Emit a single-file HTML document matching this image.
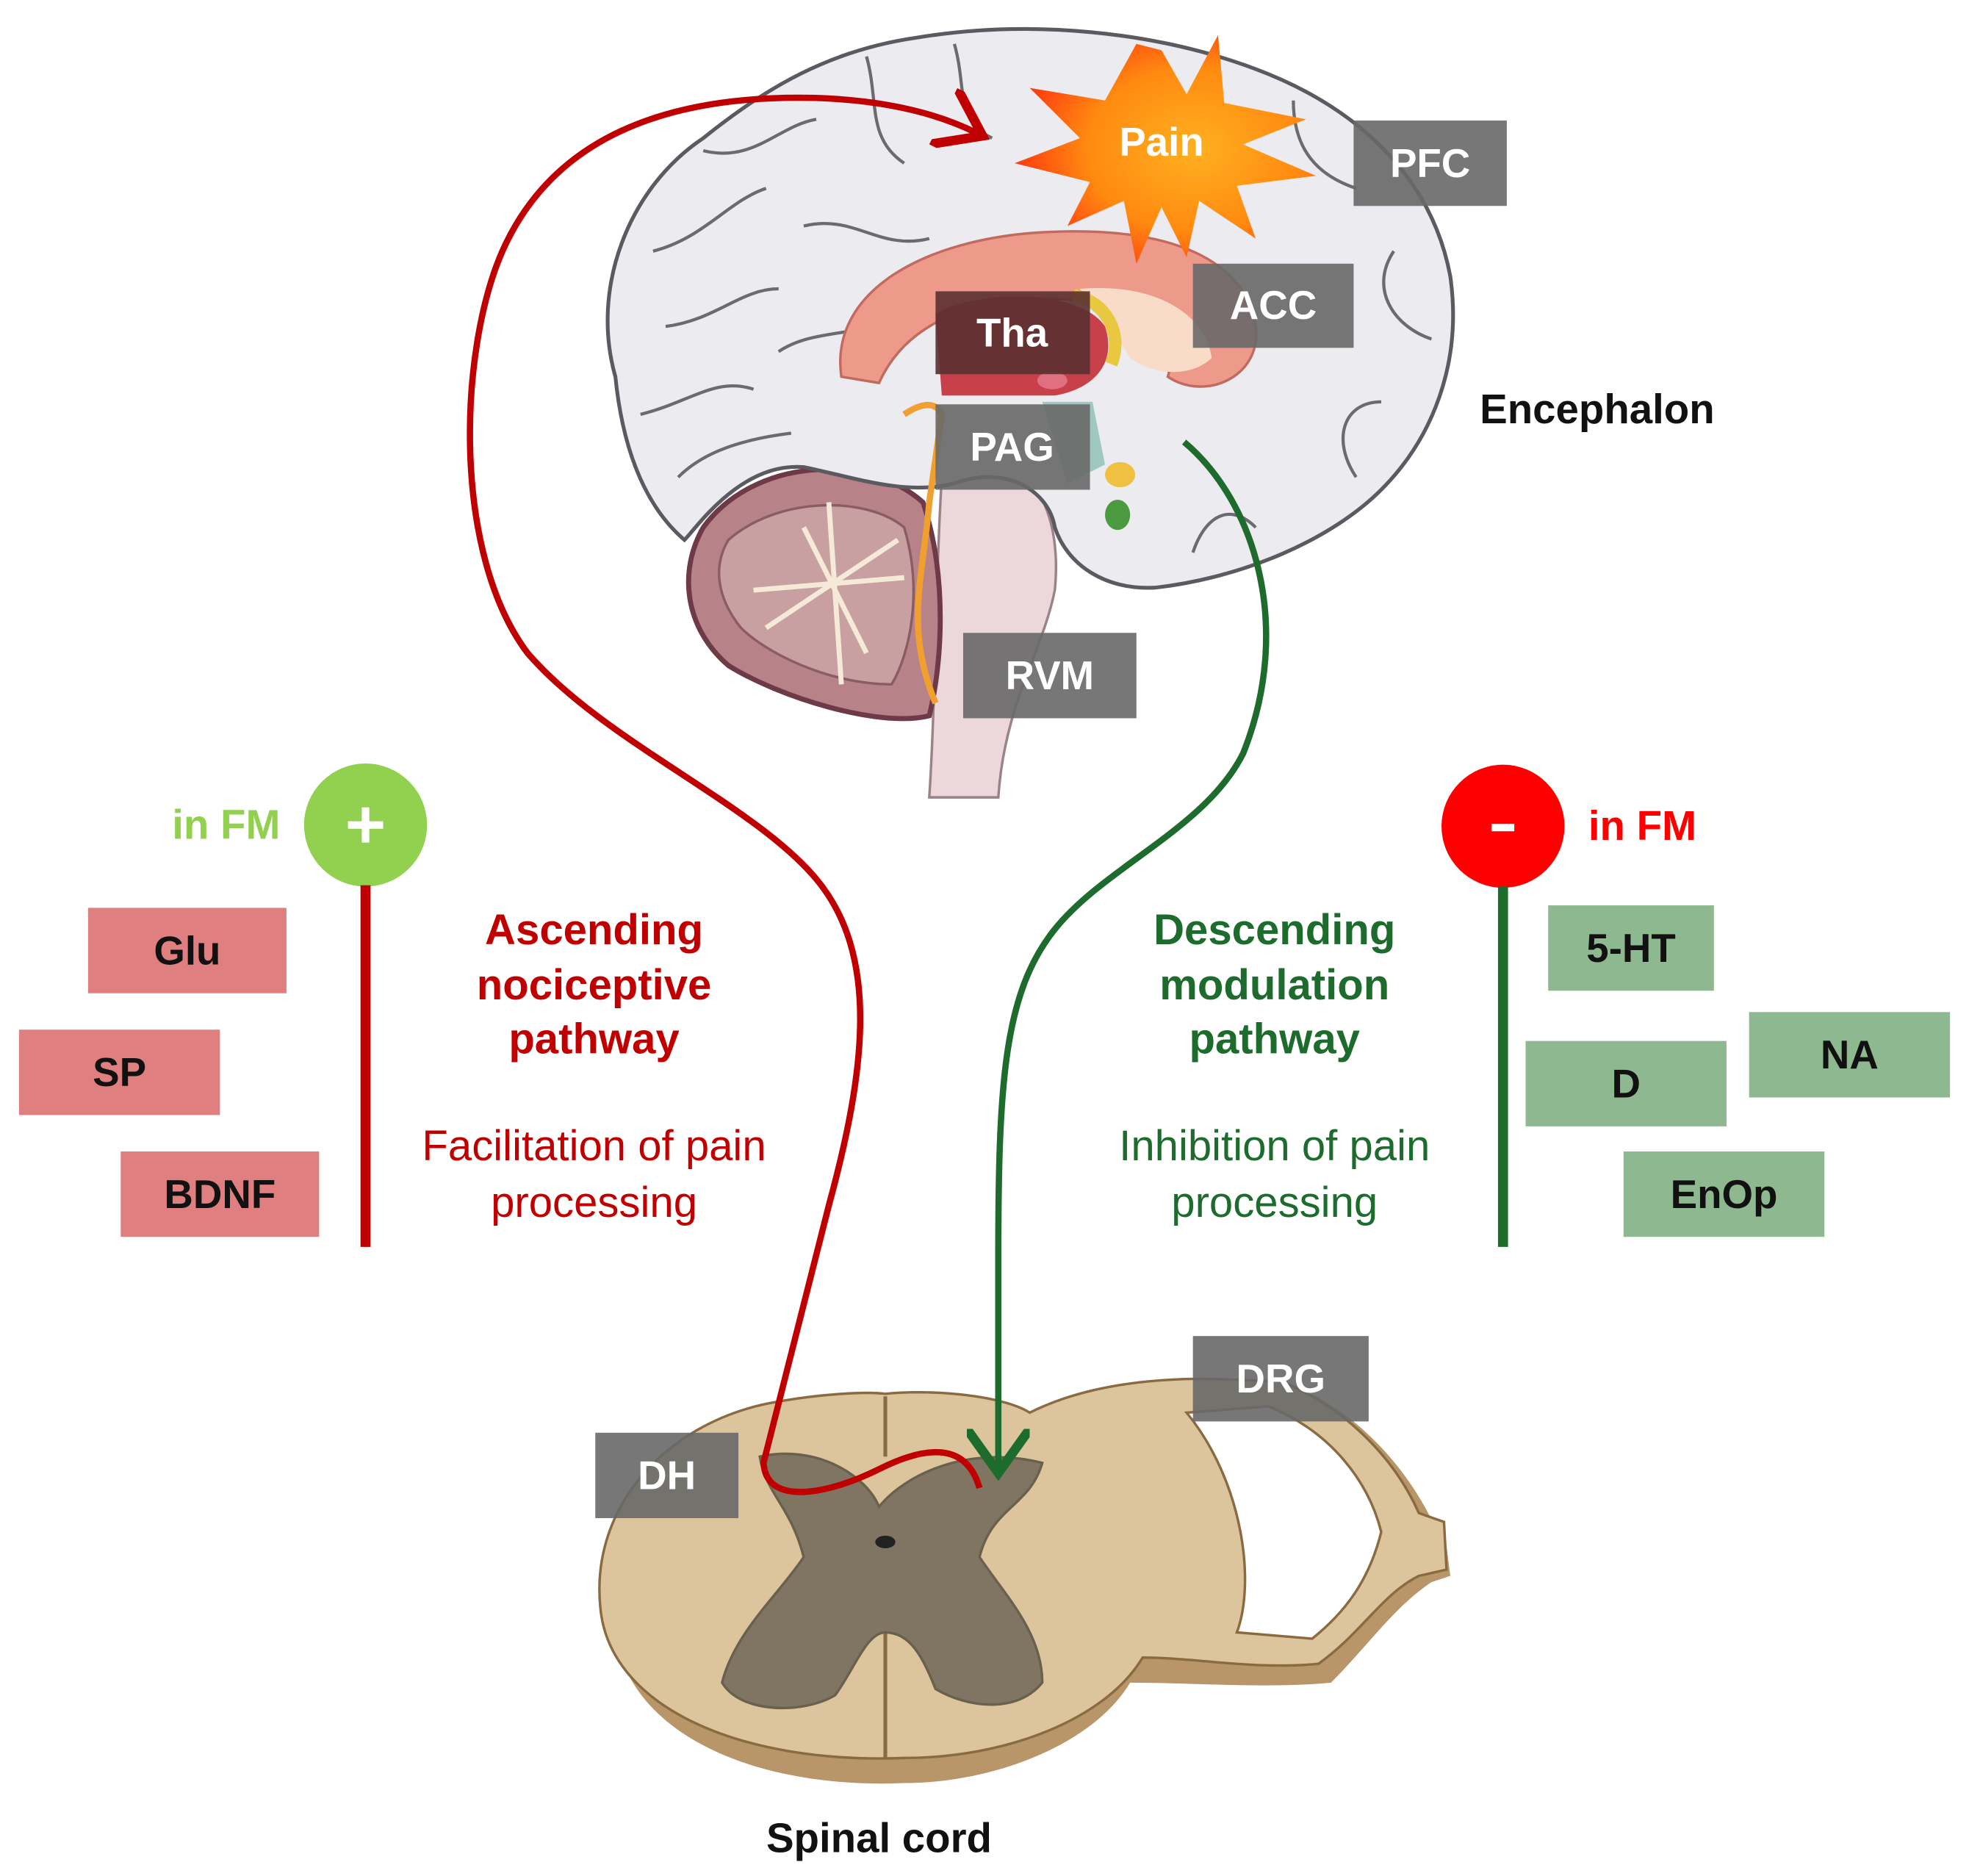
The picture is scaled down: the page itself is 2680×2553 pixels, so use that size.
<!DOCTYPE html>
<html><head><meta charset="utf-8"><style>
html,body{margin:0;padding:0;background:#fff;}
svg{display:block;}
text{font-family:"Liberation Sans",Arial,sans-serif;}
</style></head><body>
<svg width="2680" height="2553" viewBox="0 0 1568 1494" xmlns="http://www.w3.org/2000/svg">
<defs>
<radialGradient id="pg" cx="0.6" cy="0.5" r="0.6"><stop offset="0" stop-color="#ffb020"/><stop offset="0.6" stop-color="#ff8a10"/><stop offset="1" stop-color="#ff3a10"/></radialGradient>
<marker id="ar" markerWidth="10" markerHeight="10" refX="6" refY="5" orient="auto" markerUnits="strokeWidth"><path d="M0,0 L7,5 L0,10" fill="none" stroke="#c00000" stroke-width="1.5"/></marker>
<marker id="ag" markerWidth="10" markerHeight="10" refX="6" refY="5" orient="auto" markerUnits="strokeWidth"><path d="M0,0 L7,5 L0,10" fill="none" stroke="#1e6b2e" stroke-width="1.5"/></marker>
</defs>
<rect width="1568" height="1494" fill="#fff"/>

<!-- brainstem -->
<path d="M750,380 C745,460 745,560 740,635 L795,635 C800,560 830,520 840,470 C845,420 830,380 800,370 Z" fill="#ecd8da" stroke="#9a8288" stroke-width="2"/>
<!-- cerebellum -->
<path d="M560,420 C600,365 690,360 735,400 C755,460 750,530 740,570 C700,580 620,555 580,530 C545,500 540,455 560,420 Z" fill="#b88388" stroke="#6e3a48" stroke-width="4"/>
<path d="M580,430 C620,395 690,395 720,420 C735,470 725,520 710,545 C660,545 610,520 590,500 C570,475 568,450 580,430 Z" fill="#c9a0a2" stroke="#8a5c64" stroke-width="2"/>
<path d="M600,470 L720,460 M640,420 L690,520 M610,500 L715,430 M660,400 L670,545" stroke="#f5ead8" stroke-width="4"/>
<!-- cerebrum -->
<path d="M490,300 C470,230 500,150 560,110 C610,70 660,40 730,30 C820,15 920,25 1000,55 C1080,85 1140,140 1155,220 C1165,290 1140,350 1100,390 C1060,430 990,460 920,468 C880,470 850,450 840,420 C835,390 800,370 760,385 C720,395 680,380 640,372 C590,368 555,420 545,430 C510,400 495,350 490,300 Z" fill="#ecebef" stroke="#5a5a60" stroke-width="3"/>
<g fill="none" stroke="#6a6a70" stroke-width="2.5">
<path d="M520,200 C560,190 580,160 610,150 M560,120 C600,130 620,100 650,95 M690,45 C700,80 690,110 720,130 M760,35 C770,70 760,95 790,110 M530,260 C570,255 590,230 620,230 M510,330 C550,320 570,300 600,310 M540,380 C560,360 590,350 630,345 M1030,80 C1030,120 1050,140 1080,150 M1110,200 C1090,230 1110,260 1140,270 M1100,320 C1070,320 1060,350 1080,380 M1000,420 C980,400 960,410 950,440 M640,180 C680,170 700,200 740,190 M620,280 C650,260 690,270 710,250"/>
</g>
<!-- inner structures -->
<path d="M670,300 C660,230 740,190 830,185 C920,180 990,200 1000,260 C1005,300 960,320 930,300 C940,270 900,240 840,238 C770,236 720,260 700,305 Z" fill="#ee9a8a" stroke="#c06a60" stroke-width="2"/>
<path d="M745,250 C780,230 860,230 880,260 C890,290 870,310 840,315 L750,315 Z" fill="#c8404a"/>
<path d="M860,230 C920,225 960,250 965,285 C950,300 920,300 900,285 C885,260 870,245 860,230 Z" fill="#f8dcc8"/>
<path d="M855,235 C880,240 895,265 885,290" fill="none" stroke="#e8c840" stroke-width="10"/>
<path d="M830,320 L870,320 L880,370 L850,385 Z" fill="#9ec8c0"/>
<ellipse cx="892" cy="378" rx="12" ry="10" fill="#f0c040"/>
<ellipse cx="890" cy="410" rx="10" ry="12" fill="#4a9a40"/>
<path d="M720,330 C735,320 745,320 750,330 L740,400 C735,460 720,500 745,560" fill="none" stroke="#f0a030" stroke-width="5"/>
<ellipse cx="838" cy="303" rx="12" ry="7" fill="#e07080"/>

<!-- pain star -->
<path d="M925,40 L945,75 L970,28 L975,82 L1040,95 L990,115 L1048,140 L985,148 L1000,190 L955,160 L945,205 L925,165 L905,210 L895,160 L850,180 L868,145 L808,130 L860,110 L820,70 L880,80 L905,35 Z" fill="url(#pg)"/>
<text x="925" y="124" font-size="32" font-weight="bold" fill="#fff" text-anchor="middle">Pain</text>

<!-- spinal cord -->
<path d="M490,1300 C470,1220 520,1145 600,1125 C640,1115 680,1110 705,1112 C740,1108 800,1115 820,1130 C850,1110 900,1100 950,1100 L1020,1100 C1080,1120 1120,1170 1140,1210 L1150,1215 L1155,1255 L1140,1260 C1110,1280 1090,1310 1060,1340 C1010,1345 950,1340 900,1340 C870,1390 790,1420 720,1420 C600,1425 500,1380 490,1300 Z" fill="#b9966a"/>
<path d="M478,1280 C470,1200 530,1135 610,1118 C650,1110 690,1108 705,1110 C745,1106 800,1112 820,1125 C860,1105 910,1098 960,1098 L1020,1100 C1070,1120 1110,1160 1130,1205 L1150,1212 L1152,1250 L1130,1255 C1100,1270 1085,1300 1050,1325 C1000,1330 950,1320 910,1320 C880,1370 800,1400 720,1400 C590,1405 485,1360 478,1280 Z" fill="#dcc59d" stroke="#8a6a40" stroke-width="2"/>
<path d="M945,1125 L1010,1120 C1060,1140 1090,1180 1100,1220 C1090,1260 1070,1285 1045,1305 L985,1300 C1000,1260 990,1180 945,1125 Z" fill="#fff" stroke="#8a6a40" stroke-width="2"/>
<path d="M705,1112 L705,1160 M705,1300 L705,1400" stroke="#8a6a40" stroke-width="3"/>
<path d="M605,1160 C650,1150 690,1175 700,1200 C720,1175 770,1150 830,1165 C820,1200 790,1200 780,1240 C800,1270 830,1300 830,1340 C810,1365 770,1360 745,1345 C735,1320 725,1300 705,1300 C690,1300 680,1330 665,1350 C640,1365 590,1365 575,1340 C585,1300 620,1270 640,1240 C630,1200 610,1190 605,1160 Z" fill="#807563" stroke="#6a604e" stroke-width="2"/>
<ellipse cx="705" cy="1228" rx="8" ry="5" fill="#222"/>

<!-- gray labels -->
<g fill="#686868" fill-opacity="0.9">
<rect x="1078" y="96" width="122" height="68"/>
<rect x="950" y="210" width="128" height="67"/>
<rect x="745" y="232" width="123" height="66" fill="#5a3030"/>
<rect x="745" y="322" width="123" height="68"/>
<rect x="767" y="504" width="138" height="68"/>
<rect x="950" y="1064" width="140" height="68"/>
<rect x="474" y="1141" width="114" height="68"/>
</g>
<g font-size="32" font-weight="bold" fill="#fff" text-anchor="middle">
<text x="1139" y="141">PFC</text>
<text x="1014" y="254">ACC</text>
<text x="806" y="276">Tha</text>
<text x="806" y="367">PAG</text>
<text x="836" y="549">RVM</text>
<text x="1020" y="1109">DRG</text>
<text x="531" y="1186">DH</text>
</g>

<!-- pathways -->
<path d="M780,1185 C770,1150 740,1150 700,1170 C660,1190 610,1200 608,1165 L660,960 C690,850 700,760 650,700 C600,640 480,590 420,520 C360,440 365,280 400,200 C440,110 530,75 650,78 C710,80 750,92 778,106" fill="none" stroke="#c00000" stroke-width="5" marker-end="url(#ar)"/>
<path d="M943,352 C1000,400 1030,500 990,600 C960,660 880,690 840,740 C800,790 795,860 795,1000 L795,1168" fill="none" stroke="#1e6b2e" stroke-width="5" marker-end="url(#ag)"/>

<!-- left panel -->
<circle cx="291" cy="657" r="49" fill="#92d050"/>
<path d="M277,657 H305 M291,643 V671" stroke="#fff" stroke-width="6"/>
<rect x="287" y="705" width="8" height="288" fill="#c00000"/>
<text x="180" y="668" font-size="33" font-weight="bold" fill="#92d050" text-anchor="middle">in FM</text>
<g fill="#e07f7f"><rect x="70" y="723" width="158" height="68"/><rect x="15" y="820" width="160" height="68"/><rect x="96" y="917" width="158" height="68"/></g>
<g font-size="32" font-weight="bold" fill="#111" text-anchor="middle">
<text x="149" y="768">Glu</text><text x="95" y="865">SP</text><text x="175" y="962">BDNF</text></g>
<g font-size="34" fill="#c00000" text-anchor="middle">
<text x="473" y="752" font-weight="bold">Ascending</text>
<text x="473" y="796" font-weight="bold">nociceptive</text>
<text x="473" y="839" font-weight="bold">pathway</text>
<text x="473" y="924">Facilitation of pain</text>
<text x="473" y="969">processing</text></g>

<!-- right panel -->
<circle cx="1197" cy="658" r="49" fill="#ff0000"/>
<rect x="1188" y="656" width="18" height="6" fill="#fff"/>
<rect x="1193" y="706" width="8" height="287" fill="#1e6b2e"/>
<text x="1308" y="669" font-size="33" font-weight="bold" fill="#ff0000" text-anchor="middle">in FM</text>
<g fill="#8db890"><rect x="1233" y="721" width="132" height="68"/><rect x="1215" y="829" width="160" height="68"/><rect x="1393" y="806" width="160" height="68"/><rect x="1293" y="917" width="160" height="68"/></g>
<g font-size="32" font-weight="bold" fill="#111" text-anchor="middle">
<text x="1299" y="766">5-HT</text><text x="1295" y="874">D</text><text x="1473" y="851">NA</text><text x="1373" y="962">EnOp</text></g>
<g font-size="34" fill="#1e6b2e" text-anchor="middle">
<text x="1015" y="752" font-weight="bold">Descending</text>
<text x="1015" y="796" font-weight="bold">modulation</text>
<text x="1015" y="839" font-weight="bold">pathway</text>
<text x="1015" y="924">Inhibition of pain</text>
<text x="1015" y="969">processing</text></g>

<text x="1272" y="337" font-size="33" font-weight="bold" fill="#111" text-anchor="middle">Encephalon</text>
<text x="700" y="1475" font-size="33" font-weight="bold" fill="#111" text-anchor="middle">Spinal cord</text>
</svg>
</body></html>
